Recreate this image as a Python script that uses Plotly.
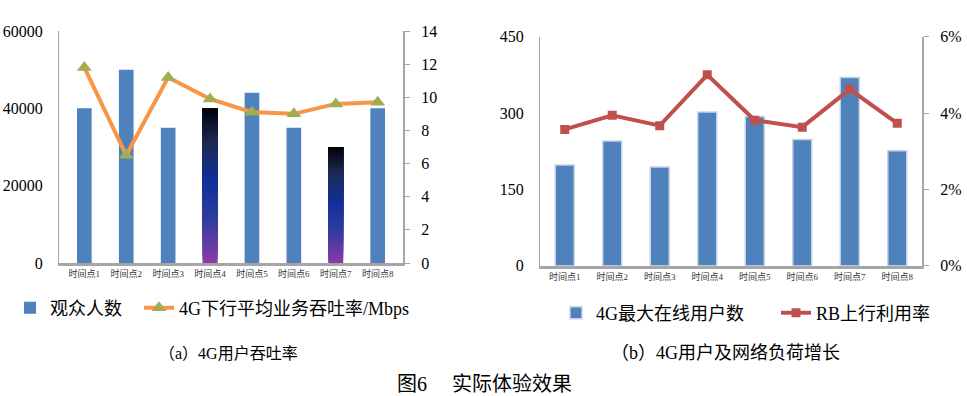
import numpy as np
import plotly.graph_objects as go

categories = ["时间点1", "时间点2", "时间点3", "时间点4", "时间点5", "时间点6", "时间点7", "时间点8"]
audience = [40000, 50000, 35000, 40000, 44000, 35000, 30000, 40000]
throughput = [11.8, 6.5, 11.2, 9.9, 9.1, 9.0, 9.6, 9.7]
gradient_idx = [3, 6]
max_users = [198, 245, 194, 302, 293, 248, 370, 226]
rb_util = [0.0357, 0.0394, 0.0367, 0.0500, 0.0381, 0.0363, 0.0462, 0.0373]

FONT = "Liberation Serif, Noto Sans CJK SC, serif"
BLUE = "#4f81bd"

fig = go.Figure()

# left chart bars
fig.add_trace(go.Bar(x=categories, y=audience, name="观众人数", marker=dict(color=BLUE, line=dict(width=0)),
                     width=0.35, xaxis="x", yaxis="y", legend="legend"))

# gradient overlay for selected bars (each slice spans from its start up to the bar top)
N = 60
stops = [(0.0, (0x8a, 0x3a, 0xa8)), (0.3, (0x2a, 0x3c, 0x9c)), (0.52, (0x12, 0x2f, 0x9c)),
         (0.78, (0x1e, 0x2a, 0x52)), (1.0, (0x00, 0x00, 0x08))]
def grad(t):
    for (a, ca), (b, cb) in zip(stops[:-1], stops[1:]):
        if a <= t <= b:
            f = (t - a) / (b - a)
            c = [int(round(ca[k] + (cb[k] - ca[k]) * f)) for k in range(3)]
            return "rgb(%d,%d,%d)" % tuple(c)
    return "rgb(0,0,8)"
gx, gy, gb, gc = [], [], [], []
for i in gradient_idx:
    v = audience[i]
    for k in range(N):
        gx.append(categories[i])
        gb.append(v * k / N)
        gy.append(v - v * k / N)
        gc.append(grad((k + 0.5) / N))
fig.add_trace(go.Bar(x=gx, y=gy, base=gb, marker=dict(color=gc, line=dict(width=0)), width=0.35,
                     showlegend=False, xaxis="x", yaxis="y", hoverinfo="skip"))

fig.add_trace(go.Scatter(x=categories, y=throughput, name="4G下行平均业务吞吐率/Mbps", mode="lines+markers",
                         line=dict(color="#f79646", width=4),
                         marker=dict(symbol="triangle-up", size=13, color="#a2ac52", line=dict(width=0)),
                         xaxis="x", yaxis="y2", legend="legend2"))

# right chart
fig.add_trace(go.Bar(x=categories, y=max_users, name="4G最大在线用户数",
                     marker=dict(color=BLUE, line=dict(color="#c3d3e6", width=1.5)),
                     width=0.4, xaxis="x2", yaxis="y3", legend="legend3"))
fig.add_trace(go.Scatter(x=categories, y=rb_util, name="RB上行利用率", mode="lines+markers",
                         line=dict(color="#c0504d", width=4),
                         marker=dict(symbol="square", size=9, color="#c0504d"),
                         xaxis="x2", yaxis="y4", legend="legend4"))

tickfont = dict(family=FONT, size=16, color="#000")
xtickfont = dict(family=FONT, size=9, color="#333")

def leg(xpx, ypx):
    return dict(orientation="h", x=xpx/967, y=(396-ypx)/396, xanchor="left", yanchor="middle",
                font=dict(family=FONT, size=18, color="#000"), bgcolor="rgba(0,0,0,0)",
                itemwidth=30, tracegroupgap=0)

fig.update_layout(
    width=967, height=396, margin=dict(l=0, r=0, t=0, b=0, autoexpand=False),
    paper_bgcolor="white", plot_bgcolor="white",
    barmode="overlay", font=dict(family=FONT),
    xaxis=dict(domain=[59/967, 403/967], anchor="y", showline=True, linecolor="#a6a6a6", linewidth=3,
               ticks="", tickfont=xtickfont, showgrid=False, automargin=False),
    yaxis=dict(domain=[(396-263)/396, (396-31)/396], anchor="x", range=[0, 60000], tickvals=[0, 20000, 40000, 60000],
               tickformat="d", showline=True, linecolor="#a6a6a6", linewidth=1, showgrid=False, zeroline=False,
               ticks="", tickfont=tickfont, ticklabelstandoff=12, automargin=False),
    yaxis2=dict(overlaying="y", anchor="x", side="right", range=[0, 14], dtick=2, showline=True,
                linecolor="#a6a6a6", linewidth=2, ticks="outside", ticklen=5, tickcolor="#a6a6a6",
                showgrid=False, zeroline=False, tickfont=tickfont, ticklabelstandoff=8, automargin=False),
    xaxis2=dict(domain=[540/967, 922/967], anchor="y3", showline=True, linecolor="#a6a6a6", linewidth=3,
                ticks="", tickfont=xtickfont, showgrid=False, automargin=False),
    yaxis3=dict(domain=[(396-265.7)/396, (396-36.7)/396], anchor="x2", range=[0, 450], tickvals=[0, 150, 300, 450],
                tickformat="d", showline=True, linecolor="#a6a6a6", linewidth=1, showgrid=False, zeroline=False,
                ticks="", tickfont=tickfont, ticklabelstandoff=12, automargin=False),
    yaxis4=dict(overlaying="y3", anchor="x2", side="right", range=[0, 0.06], tickvals=[0, 0.02, 0.04, 0.06],
                tickformat=".0%", showline=True, linecolor="#a6a6a6", linewidth=2, ticks="outside", ticklen=5,
                tickcolor="#a6a6a6", showgrid=False, zeroline=False, tickfont=tickfont, ticklabelstandoff=8,
                automargin=False),
    legend=leg(10, 308),
    legend2=leg(139, 308),
    legend3=leg(556, 313),
    legend4=leg(776, 313),
    annotations=[
        dict(text="（a）4G用户吞吐率", x=228/967, y=(396-353)/396, xref="paper", yref="paper",
             xanchor="center", yanchor="middle",
             showarrow=False, font=dict(family=FONT, size=16, color="#000")),
        dict(text="（b）4G用户及网络负荷增长", x=725/967, y=(396-353)/396, xref="paper", yref="paper",
             xanchor="center", yanchor="middle",
             showarrow=False, font=dict(family=FONT, size=18, color="#000")),
        dict(text="图6　 实际体验效果", x=484/967, y=(396-384)/396, xref="paper", yref="paper",
             xanchor="center", yanchor="middle",
             showarrow=False, font=dict(family=FONT, size=20, color="#000")),
    ],
)

fig.write_html("out.html", config={"displayModeBar": False},
               post_script="document.body.style.margin='0';document.body.style.overflow='hidden';")
